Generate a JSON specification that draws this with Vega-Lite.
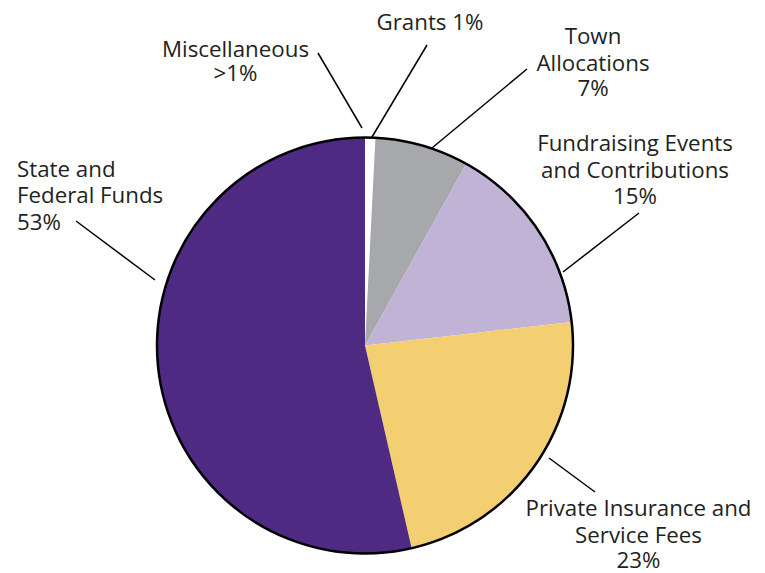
{
  "$schema": "https://vega.github.io/schema/vega-lite/v6.json",
  "width": 765,
  "height": 573,
  "autosize": {"type": "fit", "contains": "padding"},
  "padding": 0,
  "background": "white",
  "config": {"view": {"stroke": null}},
  "layer": [
    {
      "data": {"values": [
        {"source": "Miscellaneous", "value": 0.2, "order": 1},
        {"source": "Grants", "value": 0.6, "order": 2},
        {"source": "Town Allocations", "value": 7.3, "order": 3},
        {"source": "Fundraising Events and Contributions", "value": 15.1, "order": 4},
        {"source": "Private Insurance and Service Fees", "value": 23.2, "order": 5},
        {"source": "State and Federal Funds", "value": 53.6, "order": 6}
      ]},
      "mark": {"type": "arc", "outerRadius": 208},
      "encoding": {
        "x": {"datum": 0, "type": "quantitative", "scale": {"domain": [-365, 400], "nice": false, "zero": false}, "axis": null},
        "y": {"datum": 0, "type": "quantitative", "scale": {"domain": [-227.5, 345.5], "nice": false, "zero": false}, "axis": null},
        "theta": {"field": "value", "type": "quantitative", "stack": true},
        "order": {"field": "order", "type": "quantitative"},
        "color": {
          "field": "source", "type": "nominal", "legend": null,
          "scale": {
            "domain": ["Miscellaneous", "Grants", "Town Allocations", "Fundraising Events and Contributions", "Private Insurance and Service Fees", "State and Federal Funds"],
            "range": ["#ffffff", "#ffffff", "#a7a8ab", "#c1b3d6", "#f3cf72", "#4e2a82"]
          }
        }
      }
    },
    {
      "data": {"values": [{"outline": "pie"}]},
      "mark": {"type": "arc", "outerRadius": 208, "theta": 0, "theta2": 6.2832, "fill": null, "stroke": "#000000", "strokeWidth": 2.5},
      "encoding": {
        "x": {"datum": 0, "type": "quantitative"},
        "y": {"datum": 0, "type": "quantitative"}
      }
    },
    {
      "data": {"values": [
        {"label": "Miscellaneous", "x": -47, "y": 292.5, "x2": -3, "y2": 217.5},
        {"label": "Grants", "x": 62, "y": 300.5, "x2": 7, "y2": 208.5},
        {"label": "Town", "x": 162, "y": 276.5, "x2": 67, "y2": 197.5},
        {"label": "Fundraising", "x": 274, "y": 132.5, "x2": 198, "y2": 73.5},
        {"label": "Private", "x": 184, "y": -112.5, "x2": 230, "y2": -146.5},
        {"label": "State", "x": -289, "y": 124.5, "x2": -210, "y2": 65.5}
      ]},
      "mark": {"type": "rule", "stroke": "#000000", "strokeWidth": 1.5},
      "encoding": {
        "x": {"field": "x", "type": "quantitative"},
        "y": {"field": "y", "type": "quantitative"},
        "x2": {"field": "x2"},
        "y2": {"field": "y2"}
      }
    },
    {
      "data": {"values": [
        {"text": "Miscellaneous", "x": -129.5, "y": 288.5},
        {"text": ">1%", "x": -129.5, "y": 264.5},
        {"text": "Grants 1%", "x": 65, "y": 315.5},
        {"text": "Town", "x": 228, "y": 301.5},
        {"text": "Allocations", "x": 228, "y": 274.5},
        {"text": "7%", "x": 228, "y": 249.5},
        {"text": "Fundraising Events", "x": 270, "y": 194.5},
        {"text": "and Contributions", "x": 270, "y": 168},
        {"text": "15%", "x": 270, "y": 141.5},
        {"text": "Private Insurance and", "x": 273.5, "y": -170.5},
        {"text": "Service Fees", "x": 273.5, "y": -197.5},
        {"text": "23%", "x": 273.5, "y": -222.5}
      ]},
      "mark": {"type": "text", "align": "center", "baseline": "alphabetic", "font": "Open Sans", "fontSize": 22.3, "fill": "#231f20"},
      "encoding": {
        "x": {"field": "x", "type": "quantitative"},
        "y": {"field": "y", "type": "quantitative"},
        "text": {"field": "text"}
      }
    },
    {
      "data": {"values": [
        {"text": "State and", "x": -348, "y": 168.5},
        {"text": "Federal Funds", "x": -348, "y": 142.5},
        {"text": "53%", "x": -348, "y": 115.5}
      ]},
      "mark": {"type": "text", "align": "left", "baseline": "alphabetic", "font": "Open Sans", "fontSize": 22.3, "fill": "#231f20"},
      "encoding": {
        "x": {"field": "x", "type": "quantitative"},
        "y": {"field": "y", "type": "quantitative"},
        "text": {"field": "text"}
      }
    }
  ]
}
